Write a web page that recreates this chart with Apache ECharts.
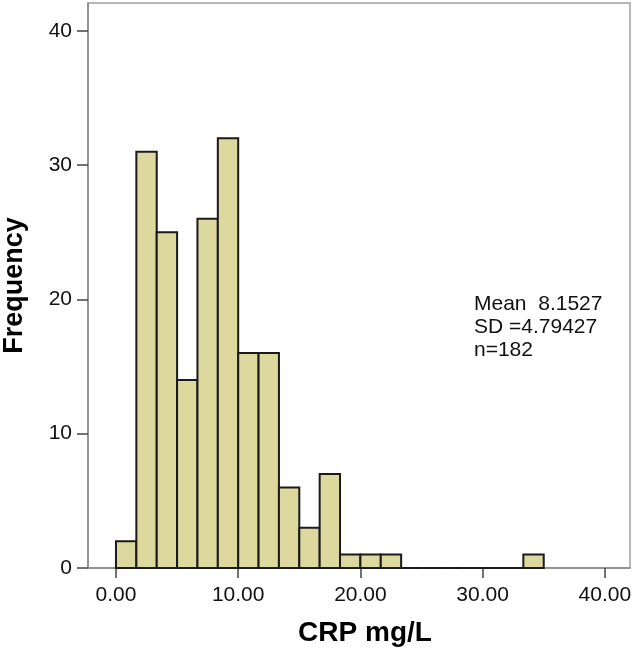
<!DOCTYPE html>
<html>
<head>
<meta charset="utf-8">
<script src="https://cdn.jsdelivr.net/npm/echarts@6/dist/echarts.min.js"></script>
<style>
html,body{margin:0;padding:0;background:#fff;}
#chart{width:633px;height:651px;}
</style>
</head>
<body>
<div id="chart"></div>
<script>
// Histogram data: 21 bins of equal width from 0 to 35
var binStart = 0;
var binEnd = 35;
var counts = [2, 31, 25, 14, 26, 32, 16, 16, 6, 3, 7, 1, 1, 1, 0, 0, 0, 0, 0, 0, 1];
var xTicks = [0, 10, 20, 30, 40];
var yTicks = [0, 10, 20, 30, 40];
var statsLines = ['Mean  8.1527', 'SD =4.79427', 'n=182'];

var binWidth = (binEnd - binStart) / counts.length;
var data = counts.map(function (c, i) {
  return [binStart + i * binWidth, binStart + (i + 1) * binWidth, c];
});

var chart = echarts.init(document.getElementById('chart'), null, {renderer: 'canvas'});
var font = 'Liberation Sans, Arial, sans-serif';

chart.setOption({
  animation: false,
  grid: {left: 88, right: 3, top: 3, bottom: 83, outerBoundsMode: 'none', containLabel: false,
    show: true, borderColor: '#a0a0a0', borderWidth: 1.5},
  xAxis: {
    type: 'value', min: -2.29, max: 42.06,
    name: 'CRP mg/L', nameLocation: 'middle', nameGap: 51,
    nameTextStyle: {fontFamily: font, fontSize: 28, fontWeight: 'bold', color: '#000', padding: [0, 0, 0, 12]},
    axisLine: {show: true, onZero: false, lineStyle: {color: '#888', width: 1.5}},
    axisTick: {show: true, length: 10, lineStyle: {color: '#444', width: 1.5}, customValues: xTicks},
    axisLabel: {customValues: xTicks, margin: 17, fontFamily: font, fontSize: 21, color: '#111',
      formatter: function (v) { return v.toFixed(2); }},
    splitLine: {show: false}
  },
  yAxis: {
    type: 'value', min: 0, max: 42.07,
    name: 'Frequency', nameLocation: 'middle', nameGap: 60,
    nameTextStyle: {fontFamily: font, fontSize: 27, fontWeight: 'bold', color: '#000'},
    axisLine: {show: true, onZero: false, lineStyle: {color: '#888', width: 1.5}},
    axisTick: {show: true, length: 11, lineStyle: {color: '#444', width: 1.5}, customValues: yTicks},
    axisLabel: {customValues: yTicks, margin: 16, fontFamily: font, fontSize: 21, color: '#111',
      formatter: function (v) { return String(Math.round(v)); }},
    splitLine: {show: false}
  },
  series: [{
    type: 'custom',
    data: data,
    renderItem: function (params, api) {
      var p0 = api.coord([api.value(0), 0]);
      var p1 = api.coord([api.value(1), api.value(2)]);
      return {
        type: 'rect',
        shape: {x: p0[0], y: p1[1], width: p1[0] - p0[0], height: p0[1] - p1[1]},
        style: {fill: '#dcd89e', stroke: '#1a1a1a', lineWidth: 2}
      };
    },
    encode: {x: [0, 1], y: 2}
  }],
  graphic: statsLines.map(function (t, i) {
    return {
      type: 'text', left: 474, top: 294 + i * 22.7,
      style: {text: t, fontFamily: font, fontSize: 21, fill: '#111'}
    };
  })
});
</script>
</body>
</html>
